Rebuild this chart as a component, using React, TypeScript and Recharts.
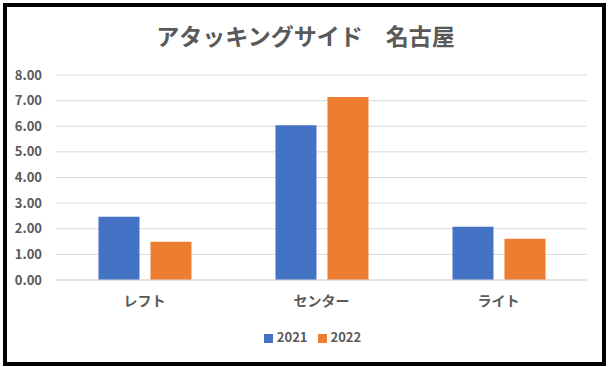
import React from 'react';
import { BarChart, Bar, XAxis, YAxis, CartesianGrid, Legend } from 'recharts';

const positions = ['レフト', 'センター', 'ライト'];
const values2021 = [2.47, 6.04, 2.08];
const values2022 = [1.49, 7.14, 1.61];
const yTicks = [0, 1, 2, 3, 4, 5, 6, 7, 8];

const data = positions.map((name, i) => ({
  name,
  y2021: values2021[i],
  y2022: values2022[i],
}));

const FONT = '"Noto Sans CJK JP", "Noto Sans", sans-serif';
const TEXT = '#595959';

const App: React.FC = () => {
  return (
    <div style={{ position: 'absolute', left: 0, top: 0, width: 611, height: 367, background: '#fff', fontFamily: FONT }}>
      <div
        style={{
          position: 'absolute', left: 3, top: 3, width: 603, height: 363,
          border: '4px solid #000', boxSizing: 'border-box',
        }}
      />
      <div
        style={{
          position: 'absolute', left: 0, top: 18, width: 611, textAlign: 'center',
          fontSize: 23, fontWeight: 700, color: TEXT, lineHeight: '34px',
        }}
      >
        アタッキングサイド　名古屋
      </div>
      <div style={{ position: 'absolute', left: 0, top: 0 }}>
        <BarChart
          width={611}
          height={367}
          data={data}
          margin={{ top: 75, right: 24, left: 6, bottom: 21 }}
          barCategoryGap="24%"
          barGap={11}
        >
          <CartesianGrid vertical={false} stroke="#d9d9d9" />
          <XAxis
            dataKey="name"
            height={47}
            tickLine={false}
            axisLine={{ stroke: '#d9d9d9' }}
            tickMargin={10}
            tick={{ fill: TEXT, fontSize: 14, fontWeight: 700, fontFamily: FONT }}
          />
          <YAxis
            width={50}
            domain={[0, 8]}
            ticks={yTicks}
            tickFormatter={(v: number) => v.toFixed(2)}
            tickLine={false}
            axisLine={false}
            tickMargin={8}
            tick={{ fill: TEXT, fontSize: 13, fontWeight: 700, fontFamily: FONT }}
          />
          <Legend
            verticalAlign="bottom"
            align="center"
            iconType="square"
            iconSize={9}
            wrapperStyle={{ left: 12, width: 611, fontSize: 13, fontWeight: 700, fontFamily: FONT }}
            formatter={(value: string) => <span style={{ color: TEXT }}>{value}</span>}
          />
          <Bar dataKey="y2021" name="2021" fill="#4472C4" isAnimationActive={false} />
          <Bar dataKey="y2022" name="2022" fill="#ED7D31" isAnimationActive={false} />
        </BarChart>
      </div>
    </div>
  );
};

export default App;
